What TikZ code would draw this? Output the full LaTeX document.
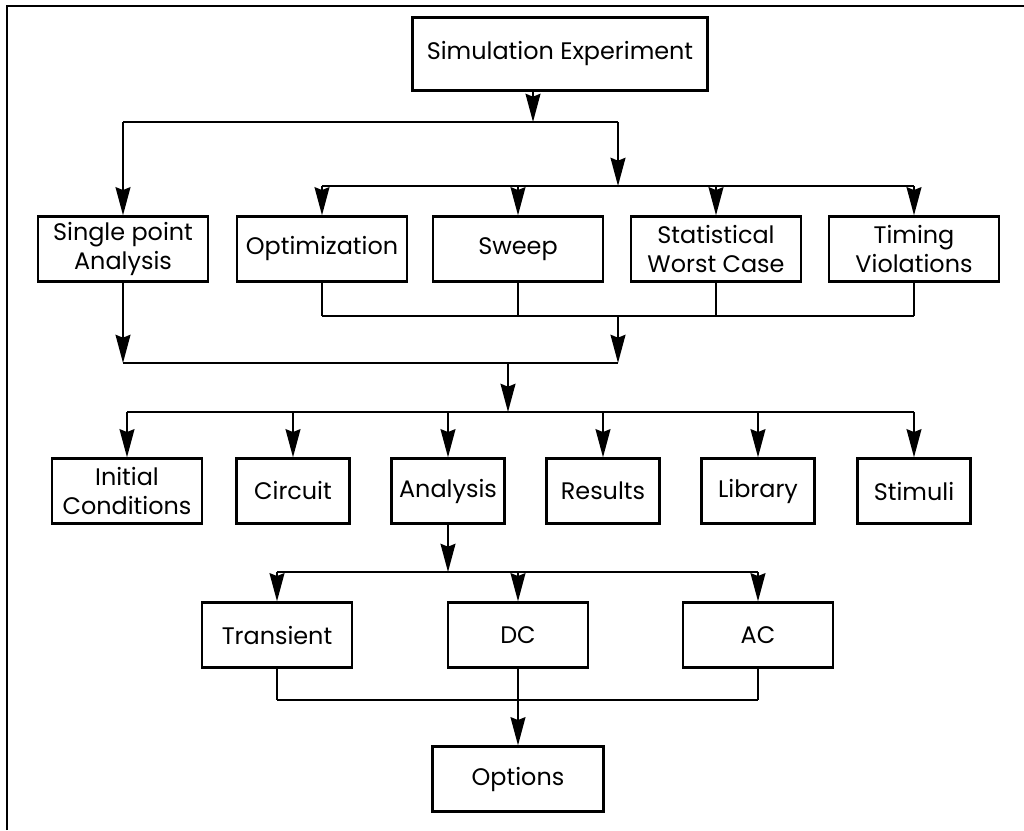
\documentclass[tikz,border=0pt]{standalone}
\usepackage{fontspec}
\setmainfont{Poppins}
\usepackage{tikz}
\usetikzlibrary{arrows.meta, positioning}

\begin{document}
\begin{tikzpicture}[x=0.025cm, y=-0.025cm,
    box/.style={draw, line width=1.6pt, minimum height=1.625cm, align=center, inner sep=2pt,
                font=\fontsize{17}{20.6}\selectfont},
    conn/.style={line width=1.8pt},
    arr/.style={line width=1.8pt, -{Stealth[length=20pt, width=10.5pt, inset=2pt]}}]
  \useasboundingbox (0,0) rectangle (1024,830);

  % frame
  \draw[conn] (7,830) -- (7,6) -- (1024,6);

  % top
  \node[box, minimum width=7.375cm, minimum height=1.825cm] (sim) at (560,54) {Simulation Experiment};

  % experiment kinds
  \node[box, minimum width=4.25cm] (sp)    at (123,249) {Single point\\Analysis};
  \node[box, minimum width=4.25cm] (opt)   at (322,249) {Optimization};
  \node[box, minimum width=4.25cm] (sweep) at (518,249) {Sweep};
  \node[box, minimum width=4.25cm] (stat)  at (716,249) {Statistical\\Worst Case};
  \node[box, minimum width=4.25cm] (tim)   at (914,249) {Timing\\Violations};

  % setup parts
  \node[box, minimum width=3.75cm]  (ic)   at (127,491) {Initial\\Conditions};
  \node[box, minimum width=2.825cm] (circ) at (293,491) {Circuit};
  \node[box, minimum width=2.825cm] (ana)  at (448,491) {Analysis};
  \node[box, minimum width=2.825cm] (res)  at (603,491) {Results};
  \node[box, minimum width=2.825cm] (lib)  at (758,491) {Library};
  \node[box, minimum width=2.825cm] (stim) at (914,491) {Stimuli};

  % analysis kinds
  \node[box, minimum width=3.75cm] (tr) at (277,635) {Transient};
  \node[box, minimum width=3.5cm]  (dc) at (518,635) {DC};
  \node[box, minimum width=3.75cm] (ac) at (758,635) {AC};

  \node[box, minimum width=4.275cm] (opts) at (518,779) {Options};

  % bar junctions
  \coordinate (b1l) at (123,122);
  \coordinate (b1m) at (533,122);
  \coordinate (b1r) at (618,122);
  \coordinate (b2)  at (618,186);
  \coordinate (b3)  at (618,316);
  \coordinate (b4)  at (618,363);
  \coordinate (b4m) at (508,363);
  \coordinate (b5)  at (508,412);
  \coordinate (b6)  at (448,572);
  \coordinate (b7)  at (518,700);

  % Simulation Experiment -> kinds
  \draw[arr] (sim.south -| b1m) -- (b1m);
  \draw[conn] (b1l) -- (b1r);
  \draw[arr] (b1l) -- (sp);
  \draw[arr] (b1r) -- (b2);
  \draw[conn] (opt |- b2) -- (tim |- b2);
  \foreach \n in {opt, sweep, stat, tim}
    \draw[arr] (\n |- b2) -- (\n);

  % kinds -> setup
  \foreach \n in {opt, sweep, stat, tim}
    \draw[conn] (\n) -- (\n |- b3);
  \draw[conn] (opt |- b3) -- (tim |- b3);
  \draw[arr] (b3) -- (b4);
  \draw[arr] (sp) -- (sp |- b4);
  \draw[conn] (sp |- b4) -- (b4);
  \draw[arr] (b4m) -- (b5);
  \draw[conn] (ic |- b5) -- (stim |- b5);
  \foreach \n in {ic, circ, ana, res, lib, stim}
    \draw[arr] (\n |- b5) -- (\n);

  % Analysis -> kinds -> Options
  \draw[arr] (ana) -- (b6);
  \draw[conn] (tr |- b6) -- (ac |- b6);
  \foreach \n in {tr, dc, ac}
    \draw[arr] (\n |- b6) -- (\n);
  \foreach \n in {tr, dc, ac}
    \draw[conn] (\n) -- (\n |- b7);
  \draw[conn] (tr |- b7) -- (ac |- b7);
  \draw[arr] (b7) -- (opts);
\end{tikzpicture}
\end{document}
